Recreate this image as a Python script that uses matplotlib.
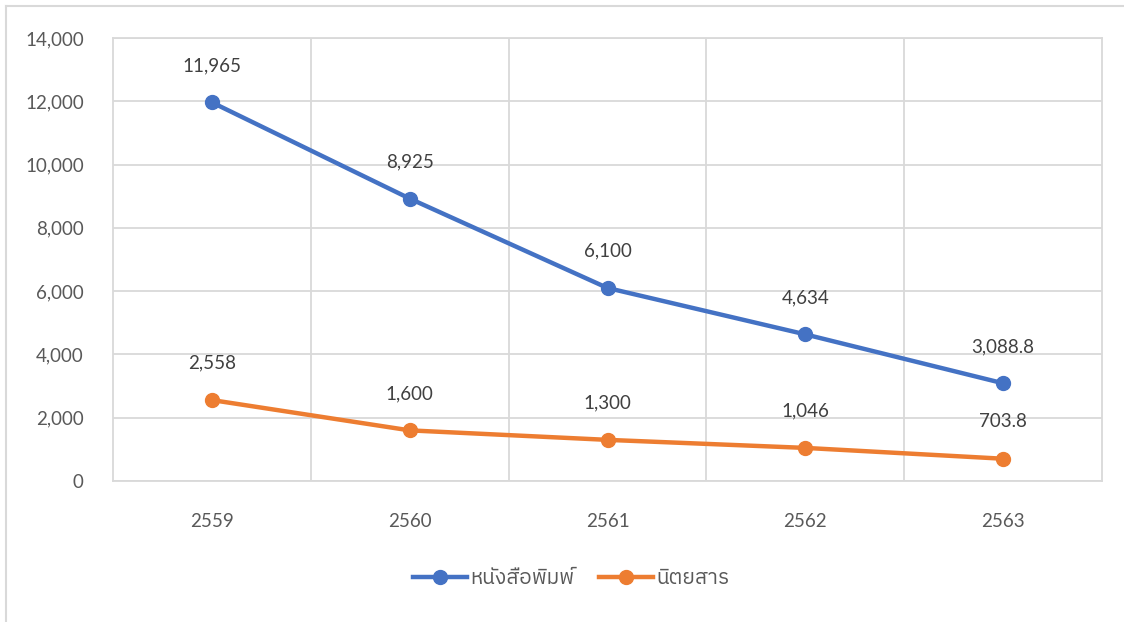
import matplotlib
matplotlib.use("Agg")
import matplotlib.pyplot as plt
import matplotlib.font_manager as fm
from matplotlib.ft2font import FT2Font
from matplotlib.lines import Line2D

years = ["2559", "2560", "2561", "2562", "2563"]
newspaper = [11965, 8925, 6100, 4634, 3088.8]
magazine = [2558, 1600, 1300, 1046, 703.8]
newspaper_labels = ["11,965", "8,925", "6,100", "4,634", "3,088.8"]
magazine_labels = ["2,558", "1,600", "1,300", "1,046", "703.8"]
series_names = ["หนังสือพิมพ์", "นิตยสาร"]

# find a font with Thai glyphs
thai_candidates = []
for f in fm.fontManager.ttflist:
    try:
        cm = FT2Font(f.fname).get_charmap()
        if 0x0E2B in cm and 0x0E34 in cm and 0x0E4C in cm:
            thai_candidates.append(f.name)
    except Exception:
        pass
thai_candidates = sorted(set(thai_candidates), key=lambda n: (0 if "Thai" in n and "Looped" not in n else 1, n))
base_font = "Lato"
fam = [base_font] + thai_candidates[:2] + ["DejaVu Sans"]
plt.rcParams["font.family"] = fam

text_color = "#595959"
grid_color = "#D9D9D9"
blue = "#4472C4"
orange = "#ED7D31"

fig = plt.figure(figsize=(11.24, 6.22), dpi=100)
ax = fig.add_axes([113 / 1124, 1 - 481 / 622, (1102 - 113) / 1124, (481 - 38) / 622])

x = list(range(len(years)))
ax.plot(x, newspaper, color=blue, lw=3.2, marker="o", ms=10, solid_capstyle="round", zorder=3)
ax.plot(x, magazine, color=orange, lw=3.2, marker="o", ms=10, solid_capstyle="round", zorder=3)

for xi, v, lab in zip(x, newspaper, newspaper_labels):
    ax.annotate(lab, (xi, v), xytext=(0, 26.5), textcoords="offset points", ha="center",
                va="center", fontsize=13.5, color="#404040")
for xi, v, lab in zip(x, magazine, magazine_labels):
    ax.annotate(lab, (xi, v), xytext=(0, 26.5), textcoords="offset points", ha="center",
                va="center", fontsize=13.5, color="#404040")

ax.set_xlim(-0.5, len(years) - 0.5)
ax.set_ylim(0, 14000)
ax.set_yticks(range(0, 14001, 2000))
ax.set_yticklabels([f"{v:,}" for v in range(0, 14001, 2000)])
ax.set_xticks(x)
ax.set_xticklabels(years)
ax.set_xticks([i - 0.5 for i in range(1, len(years))], minor=True)
ax.tick_params(axis="both", which="both", length=0, colors=text_color, labelsize=13.5)
ax.tick_params(axis="y", pad=21)
ax.tick_params(axis="x", pad=23)
ax.grid(True, axis="y", which="major", color=grid_color, lw=1.3)
ax.grid(True, axis="x", which="minor", color=grid_color, lw=1.3)
ax.grid(False, axis="x", which="major")
for s in ax.spines.values():
    s.set_color(grid_color)
    s.set_linewidth(1.3)
ax.set_axisbelow(True)

handles = [Line2D([], [], color=blue, lw=3.2, marker="o", ms=10),
           Line2D([], [], color=orange, lw=3.2, marker="o", ms=10)]
fig.legend(handles, series_names, loc="center", bbox_to_anchor=(571 / 1124, 1 - 578 / 622),
           ncol=2, frameon=False, fontsize=15, labelcolor=text_color, handlelength=2.6,
           columnspacing=1.2, handletextpad=0.15)

# outer chart border
fig.add_artist(Line2D([6 / 1124, 6 / 1124], [0, 1 - 6 / 622], color=grid_color, lw=1.5, transform=fig.transFigure))
fig.add_artist(Line2D([6 / 1124, 1], [1 - 6 / 622, 1 - 6 / 622], color=grid_color, lw=1.5, transform=fig.transFigure))

fig.savefig("out.png", dpi=100)
